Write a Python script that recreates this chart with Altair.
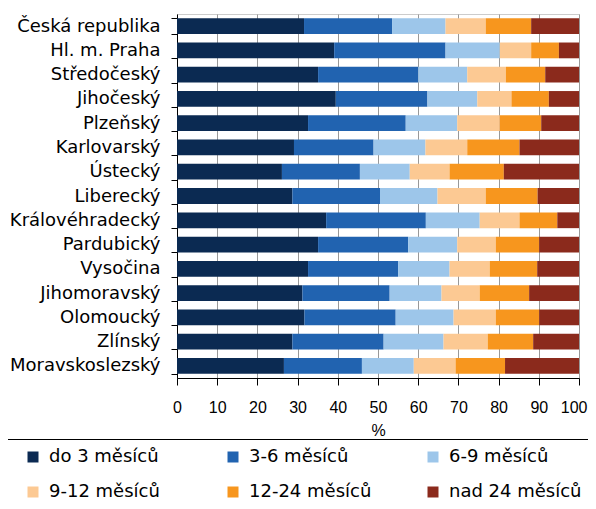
import altair as alt
import pandas as pd

regions = ["Česká republika", "Hl. m. Praha", "Středočeský\u00a0", "Jihočeský", "Plzeňský",
           "Karlovarský", "Ústecký", "Liberecký", "Královéhradecký", "Pardubický",
           "Vysočina", "Jihomoravský", "Olomoucký", "Zlínský", "Moravskoslezský"]
categories = ["do 3 měsíců", "3-6 měsíců", "6-9 měsíců", "9-12 měsíců", "12-24 měsíců", "nad 24 měsíců"]
colors = ["#0b2a52", "#2163b0", "#9dc6ea", "#fcc993", "#f7961e", "#8b2a1c"]

do3 = [31.6, 39.1, 35.1, 39.5, 32.6, 29.1, 26.1, 28.7, 37.1, 35.1, 32.6, 31.2, 31.7, 28.7, 26.6]
m3_6 = [21.9, 27.7, 24.9, 22.8, 24.3, 19.8, 19.4, 21.8, 24.8, 22.4, 22.4, 21.7, 22.7, 22.7, 19.4]
m6_9 = [13.3, 13.5, 12.2, 12.4, 12.8, 12.9, 12.4, 14.3, 13.4, 12.2, 12.8, 12.9, 14.4, 14.9, 12.9]
m9_12 = [10.0, 7.8, 9.6, 8.5, 10.6, 10.4, 9.9, 12.0, 9.9, 9.6, 10.0, 9.5, 10.5, 11.0, 10.4]
m12_24 = [11.3, 6.9, 9.8, 9.3, 10.3, 13.0, 13.5, 12.9, 9.4, 10.8, 11.8, 12.3, 10.8, 11.3, 12.3]
nad24 = [11.9, 5.0, 8.4, 7.5, 9.4, 14.8, 18.7, 10.3, 5.4, 9.9, 10.4, 12.4, 9.9, 11.4, 18.4]

series = [do3, m3_6, m6_9, m9_12, m12_24, nad24]
rows = []
for ci, (cat, vals) in enumerate(zip(categories, series)):
    for r, v in zip(regions, vals):
        rows.append({"kraj": r, "kategorie": cat, "idx": ci, "pct": v})
df = pd.DataFrame(rows)

chart = alt.Chart(df).mark_bar().encode(
    y=alt.Y("kraj:N", sort=regions,
            scale=alt.Scale(paddingInner=0.35, paddingOuter=0.175),
            axis=alt.Axis(title=None, tickBand="extent", tickSize=6, labelPadding=11,
                          labelFont="DejaVu Sans", labelFontSize=18, labelColor="#000",
                          domainColor="#000", tickColor="#000", grid=False, labelLimit=300)),
    x=alt.X("pct:Q", stack="zero",
            scale=alt.Scale(domain=[0, 100], nice=False),
            axis=alt.Axis(title="%", values=list(range(0, 101, 10)), grid=True,
                          gridColor="#999999", tickSize=7, labelPadding=14, labelFlush=False,
                          labelOverlap=False,
                          labelAlign={"condition": {"test": "datum.value == 100", "value": "right"},
                                      "value": "center"},
                          labelOffset={"condition": {"test": "datum.value == 100", "value": 8},
                                       "value": 0},
                          labelFont="Liberation Sans", labelFontSize=16, labelColor="#000",
                          titleFont="Liberation Sans", titleFontSize=16, titleFontWeight="normal",
                          titleColor="#000", titlePadding=7,
                          domainColor="#000", tickColor="#000")),
    color=alt.Color("kategorie:N", scale=alt.Scale(domain=categories, range=colors),
                    legend=alt.Legend(title=None, orient="none", legendX=-171, legendY=425,
                                      direction="horizontal", columns=3, padding=9,
                                      strokeColor="#000",
                                      symbolType="square", symbolSize=121, symbolStrokeWidth=0,
                                      symbolOffset=9,
                                      labelFont="DejaVu Sans", labelFontSize=18, labelColor="#000",
                                      labelOffset=7, rowPadding=17, columnPadding=33,
                                      gridAlign="all", labelLimit=300)),
    order=alt.Order("idx:Q", sort="ascending"),
).properties(
    width=402, height=364,
    autosize=alt.AutoSizeParams(type="none"),
    padding={"left": 169, "top": 6, "right": 9, "bottom": 123},
).configure_view(stroke="#cccccc")

chart.save("out.html", embed_options={"renderer": "svg", "actions": False})
